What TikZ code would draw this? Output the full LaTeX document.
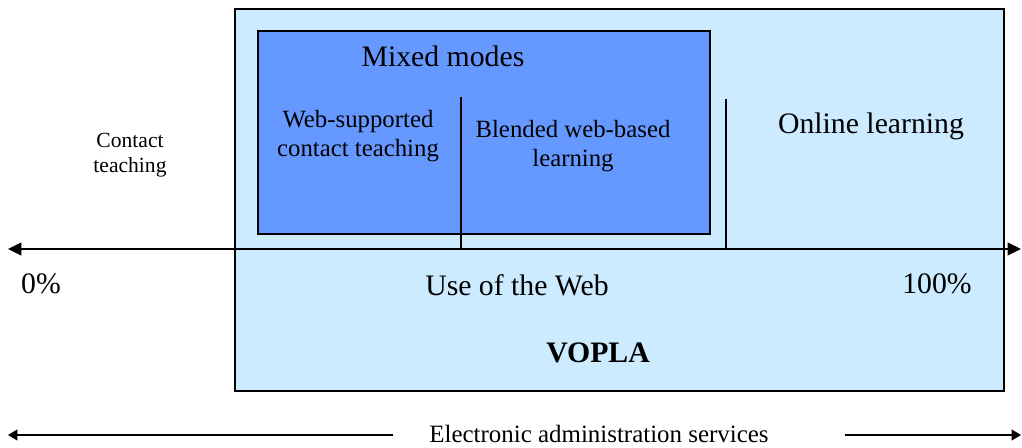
\documentclass[tikz,border=0pt]{standalone}
\usepackage{fontspec}
\setmainfont{Liberation Serif}
\usetikzlibrary{arrows.meta}
\definecolor{lightbg}{HTML}{CCEBFF}
\definecolor{midblue}{HTML}{6699FF}
\begin{document}
\begin{tikzpicture}[x=0.75pt,y=-0.75pt,
  box/.style={draw=black,line width=1.3pt,inner sep=0pt,anchor=north west},
  big/.style={font=\fontsize{22.3}{26}\selectfont,inner sep=0pt},
  mid/.style={font=\fontsize{18.6}{21.8}\selectfont,inner sep=0pt,align=center},
  small/.style={font=\fontsize{16.2}{18.8}\selectfont,inner sep=0pt,align=center},
  axis/.style={line width=1.3pt,{Triangle[length=10pt,width=9.5pt]}-{Triangle[length=10pt,width=9.5pt]}},
  divider/.style={line width=1.3pt},
  admin/.style={line width=1.3pt,-{Triangle[length=7pt,width=8pt]}}]
\useasboundingbox (0,0) rectangle (1022,447);
% outer VOPLA box
\node[box,fill=lightbg,minimum width=769*0.75pt,minimum height=382*0.75pt] (vopla) at (234,8) {};
% mixed modes box
\node[box,fill=midblue,minimum width=452*0.75pt,minimum height=203*0.75pt] (mixed) at (257,30) {};
% axis
\coordinate (axL) at (8,249);
\coordinate (axR) at (1021,249);
\draw[axis] (axL) -- (axR);
% dividers
\coordinate (d1t) at (461,97);
\coordinate (d1b) at (461,249);
\coordinate (d2t) at (726,99);
\coordinate (d2b) at (726,249);
\draw[divider] (d1t) -- (d1b);
\draw[divider] (d2t) -- (d2b);
% texts
\node[big] (mm) at (443,56) {Mixed modes};
\node[mid] (wsct) at (358,136) {Web-supported\\contact teaching};
\node[mid] (bwbl) at (573,146) {Blended web-based\\learning};
\node[big] (ol) at (871,126) {Online learning};
\node[small] (ct) at (130,155) {Contact\\teaching};
\node[big] (zero) at (41,284) {0\%};
\node[big] (hundred) at (937,284) {100\%};
\node[big] (web) at (517,285) {Use of the Web};
\node[big,font=\fontsize{22.3}{26}\selectfont\bfseries] (vp) at (598,353) {VOPLA};
\node[font=\fontsize{18.7}{22}\selectfont,inner sep=0pt] (eas) at (599,434) {Electronic administration services};
\coordinate (eL) at (8,435);
\coordinate (eR) at (1021,435);
\coordinate (eLi) at (393,435);
\coordinate (eRi) at (845,435);
\draw[admin] (eLi) -- (eL);
\draw[admin] (eRi) -- (eR);
\end{tikzpicture}
\end{document}
